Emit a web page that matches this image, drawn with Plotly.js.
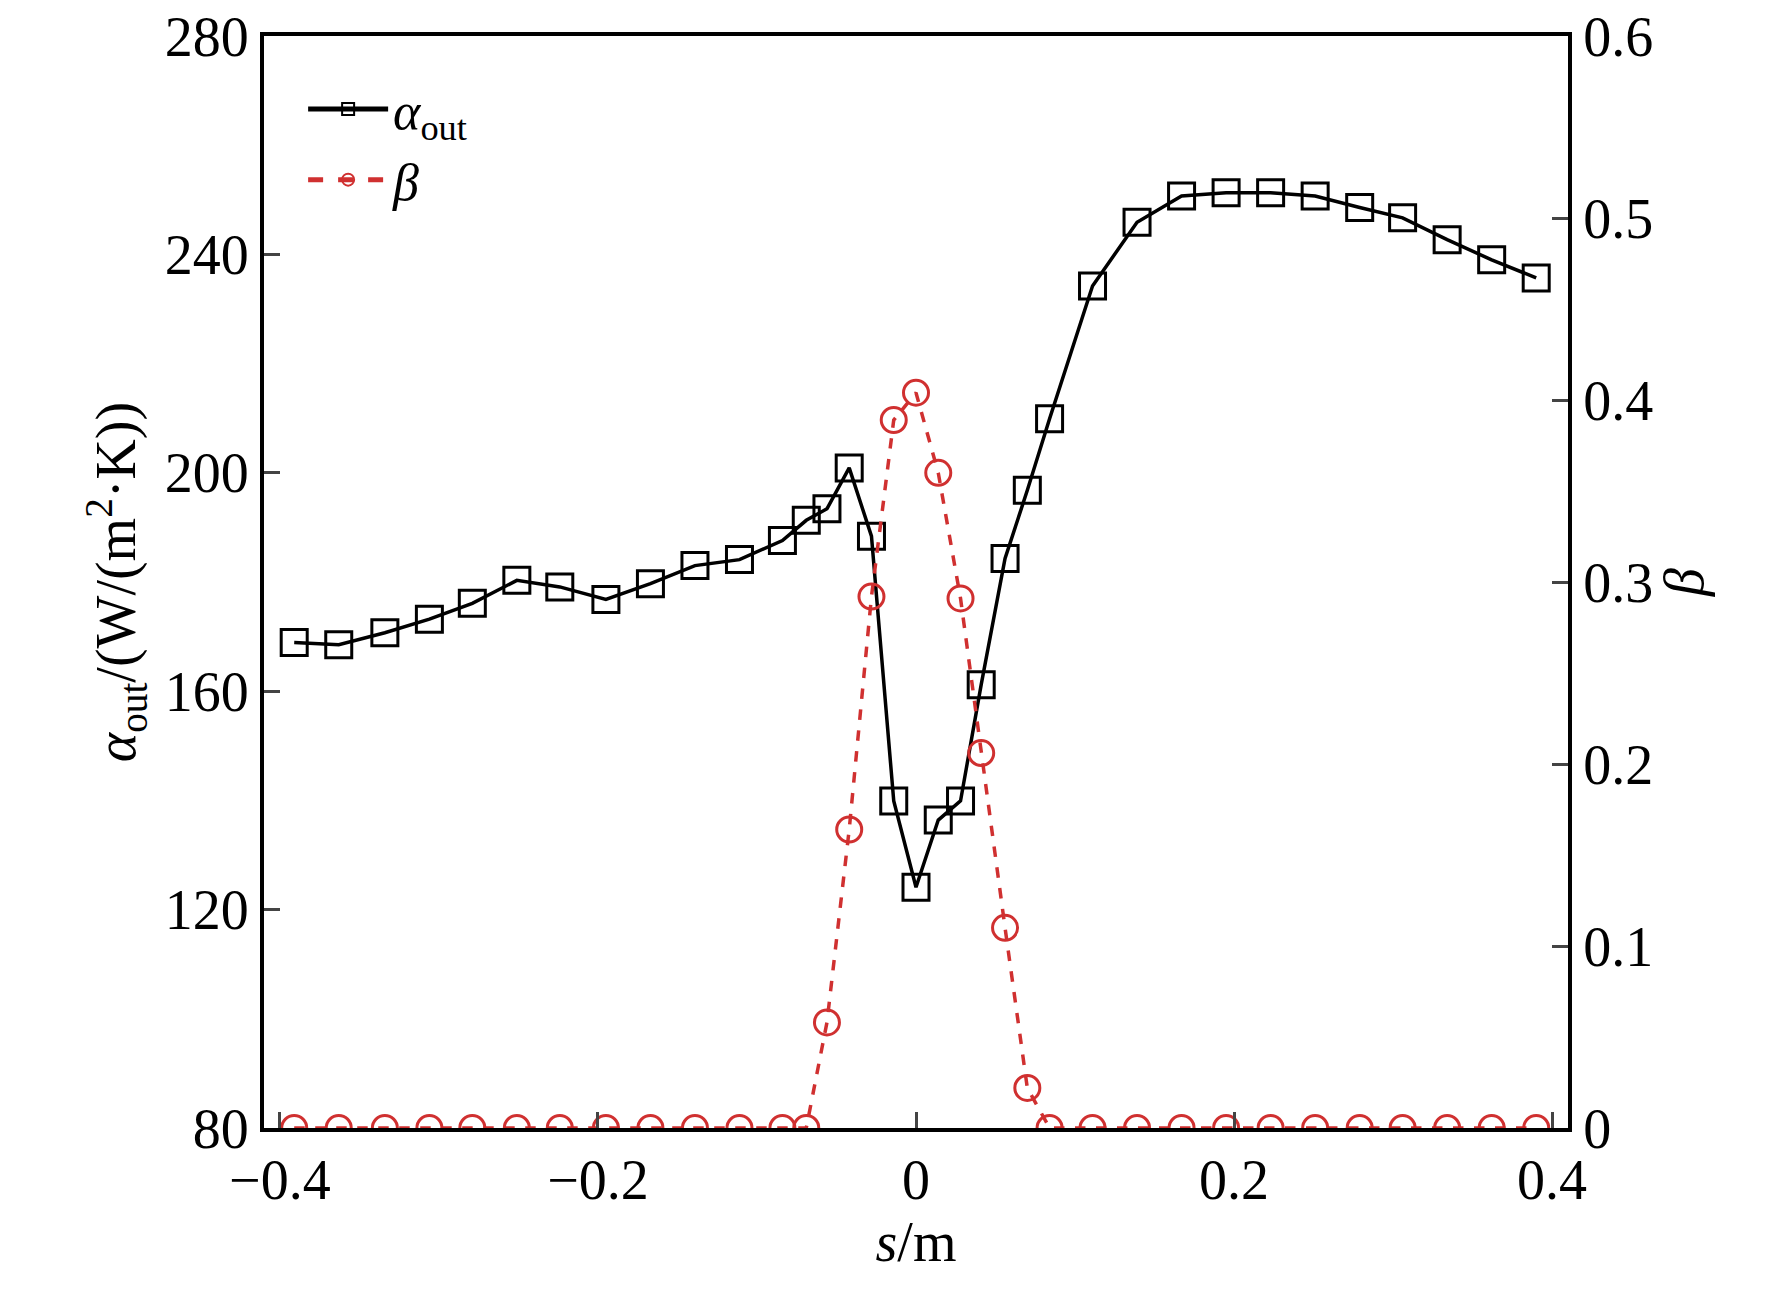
<!DOCTYPE html>
<html><head><meta charset="utf-8">
<script src="https://cdn.plot.ly/plotly-3.0.1.min.js"></script>
<style>body{margin:0}</style></head><body>
<div id="c" style="width:1772px;height:1297px"></div>
<script>
const s = [-0.391,-0.363,-0.334,-0.306,-0.279,-0.251,-0.224,-0.195,-0.167,-0.139,-0.111,-0.084,-0.069,-0.056,-0.042,-0.028,-0.014,0,0.014,0.028,0.041,0.056,0.070,0.084,0.111,0.139,0.167,0.195,0.223,0.251,0.279,0.306,0.334,0.362,0.390];
const alphaOut = [168.9,168.5,170.7,173.2,176.1,180.3,179.1,176.8,179.7,183,184.1,187.6,191.3,193.4,200.9,188.4,139.9,124.1,136.4,139.9,161.2,184.3,196.8,209.9,234.2,245.9,250.7,251.3,251.3,250.7,248.6,246.7,242.7,239,235.7];
const beta = [0,0,0,0,0,0,0,0,0,0,0,0,0,0.058,0.164,0.292,0.389,0.404,0.36,0.291,0.206,0.11,0.022,0,0,0,0,0,0,0,0,0,0,0,0];
const F = "Liberation Serif, Times New Roman, serif";
const traces = [
 {x:s,y:alphaOut,name:"<i>α</i><sub>out</sub>",mode:"lines+markers",line:{color:"black",width:3.5},
  marker:{symbol:"square-open",size:26,color:"black",line:{width:3}}},
 {x:s,y:beta,name:"<i>β</i>",yaxis:"y2",mode:"lines+markers",line:{color:"#d03030",width:3.5,dash:"dash"},
  marker:{symbol:"circle-open",size:25,color:"#d03030",line:{width:3}}}
];
const ax = {ticks:"inside",ticklen:16,tickwidth:3,linewidth:4,linecolor:"black",showline:true,showgrid:false,zeroline:false,tickfont:{family:F,size:56,color:"black"}};
const layout = {
 width:1772,height:1297,paper_bgcolor:"white",plot_bgcolor:"white",
 margin:{l:264,r:204,t:36,b:169},showlegend:true,
 legend:{x:0.03,y:0.97,font:{family:F,size:52,color:"black"},bgcolor:"rgba(0,0,0,0)",tracegroupgap:30,itemwidth:80,itemsizing:"constant"},
 xaxis:Object.assign({},ax,{range:[-0.41,0.41],tickvals:[-0.4,-0.2,0,0.2,0.4],ticktext:["−0.4","−0.2","0","0.2","0.4"],mirror:true,
   title:{text:"<i>s</i>/m",font:{family:F,size:56,color:"black"},standoff:8}}),
 yaxis:Object.assign({},ax,{range:[80,280],dtick:40,
   title:{text:"<i>α</i><sub>out</sub>/(W/(m<sup>2</sup>·K))",font:{family:F,size:56,color:"black"},standoff:12}}),
 yaxis2:Object.assign({},ax,{overlaying:"y",side:"right",range:[0,0.6],dtick:0.1,tickformat:".1~f",
   title:{text:"<i>β</i>",font:{family:F,size:56,color:"black"},standoff:12}})
};
Plotly.newPlot("c",traces,layout,{displayModeBar:false});
</script></body></html>
